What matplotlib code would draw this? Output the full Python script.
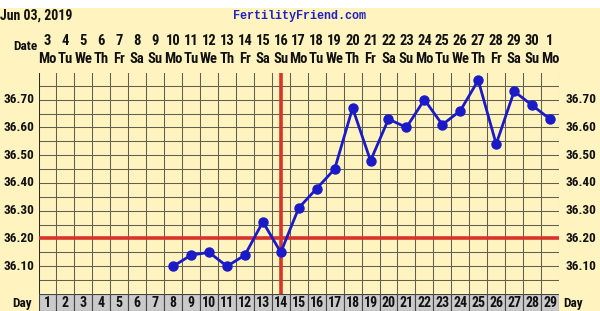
import matplotlib
matplotlib.use("Agg")
import matplotlib.pyplot as plt
from matplotlib.patches import Rectangle
import numpy as np

days = list(range(1, 30))
dates = [3, 4, 5, 6, 7, 8, 9, 10, 11, 12, 13, 14, 15, 16, 17, 18, 19, 20, 21, 22, 23, 24, 25, 26, 27, 28, 29, 30, 1]
weekdays = ["Mo", "Tu", "We", "Th", "Fr", "Sa", "Su"] * 4 + ["Mo"]
temp_days = [8, 9, 10, 11, 12, 13, 14, 15, 16, 17, 18, 19, 20, 21, 22, 23, 24, 25, 26, 27, 28, 29]
temps = [36.10, 36.14, 36.15, 36.10, 36.14, 36.26, 36.15, 36.31, 36.38, 36.45, 36.67, 36.48,
         36.63, 36.60, 36.70, 36.61, 36.66, 36.77, 36.54, 36.73, 36.68, 36.63]
ytick_vals = [36.10, 36.20, 36.30, 36.40, 36.50, 36.60, 36.70]
coverline = 36.20
ovulation_day = 14
title_left = "Jun 03, 2019"
title_center = "FertilityFriend.com"

BG = "#FFF3C0"
GRID = "#625E50"
RED = "#D8342C"
BLUE = "#1A1AC8"
FONT = ["Roboto Condensed", "Roboto", "DejaVu Sans"]
TK = dict(fontweight="bold", family=FONT, fontstretch="condensed", color="#111111")

W, H = 600, 311
fig = plt.figure(figsize=(W / 100, H / 100), dpi=100, facecolor=BG)
fig.patches.append(Rectangle((0, 1 - 8 / H), 1, 8 / H, transform=fig.transFigure,
                             facecolor="white", edgecolor="none", zorder=0))

x0, x1 = 38.5 / W, 559 / W
ytop, ybot = 73.3, 294
ax = fig.add_axes([x0, 1 - ybot / H, x1 - x0, (ybot - ytop) / H])
ax.set_facecolor(BG)
ax.set_xlim(0.5, 29.5)
ax.set_ylim(36.0, 36.795)
for xv in np.arange(0.5, 30, 1.0):
    ax.axvline(xv, color=GRID, lw=0.75, zorder=1)
for yv in np.arange(36.05, 36.79, 0.05):
    ax.axhline(yv, color=GRID, lw=0.75, zorder=1)
ax.axvline(0.5, color="#222222", lw=1.2, zorder=1)
for s in ax.spines.values():
    s.set_visible(False)
ax.set_xticks([])
ax.set_yticks([])

ax.axhline(coverline, color=RED, lw=2.6, zorder=2)
ax.axvline(ovulation_day, color=RED, lw=2.6, zorder=2)
ax.plot(temp_days, temps, color=BLUE, lw=2.0, marker="o", ms=6.5, zorder=3)

# y labels both sides
for v in ytick_vals:
    ax.text(-0.008, v, f"{v:.2f}", transform=ax.get_yaxis_transform(), ha="right", va="center",
            fontsize=9.5, **TK)
    ax.text(1.012, v, f"{v:.2f}", transform=ax.get_yaxis_transform(), ha="left", va="center",
            fontsize=9.5, **TK)

# top labels
tr = matplotlib.transforms.blended_transform_factory(ax.transData, fig.transFigure)
for d, dt, wd in zip(days, dates, weekdays):
    ax.text(d, 1 - 41 / H, str(dt), transform=tr, ha="center", va="center",
            fontsize=10.5, **TK)
    ax.text(d, 1 - 59 / H, wd, transform=tr, ha="center", va="center",
            fontsize=10.5, **TK)
fig.text(25 / W, 1 - 47 / H, "Date", ha="center", va="center", fontsize=9.5, **TK)
fig.text(0 / W, 1 - 16 / H, title_left, ha="left", va="center", fontsize=10, **TK)
fig.text(300 / W, 1 - 16 / H, title_center, ha="center", va="center", fontsize=8.5,
         fontweight="bold", family="Liberation Mono", color="#2222C0")

# day row
axd = fig.add_axes([x0, 0, x1 - x0, (H - ybot) / H])
axd.set_xlim(0.5, 29.5)
axd.set_ylim(0, 1.1)
axd.set_facecolor(BG)
axd.bar(days, [1.1] * len(days), width=1.0, bottom=0, color="#CACACA",
        edgecolor="#444444", linewidth=0.8)
for d in days:
    axd.text(d, 0.5, str(d), ha="center", va="center", fontsize=10, **TK)
for s in axd.spines.values():
    s.set_visible(False)
axd.set_xticks([])
axd.set_yticks([])
fig.text(22 / W, 1 - 303 / H, "Day", ha="center", va="center", fontsize=9.5, **TK)
fig.text(563 / W, 1 - 303 / H, "Day", ha="left", va="center", fontsize=9.5, **TK)

fig.savefig("out.png", dpi=100, facecolor=BG)
